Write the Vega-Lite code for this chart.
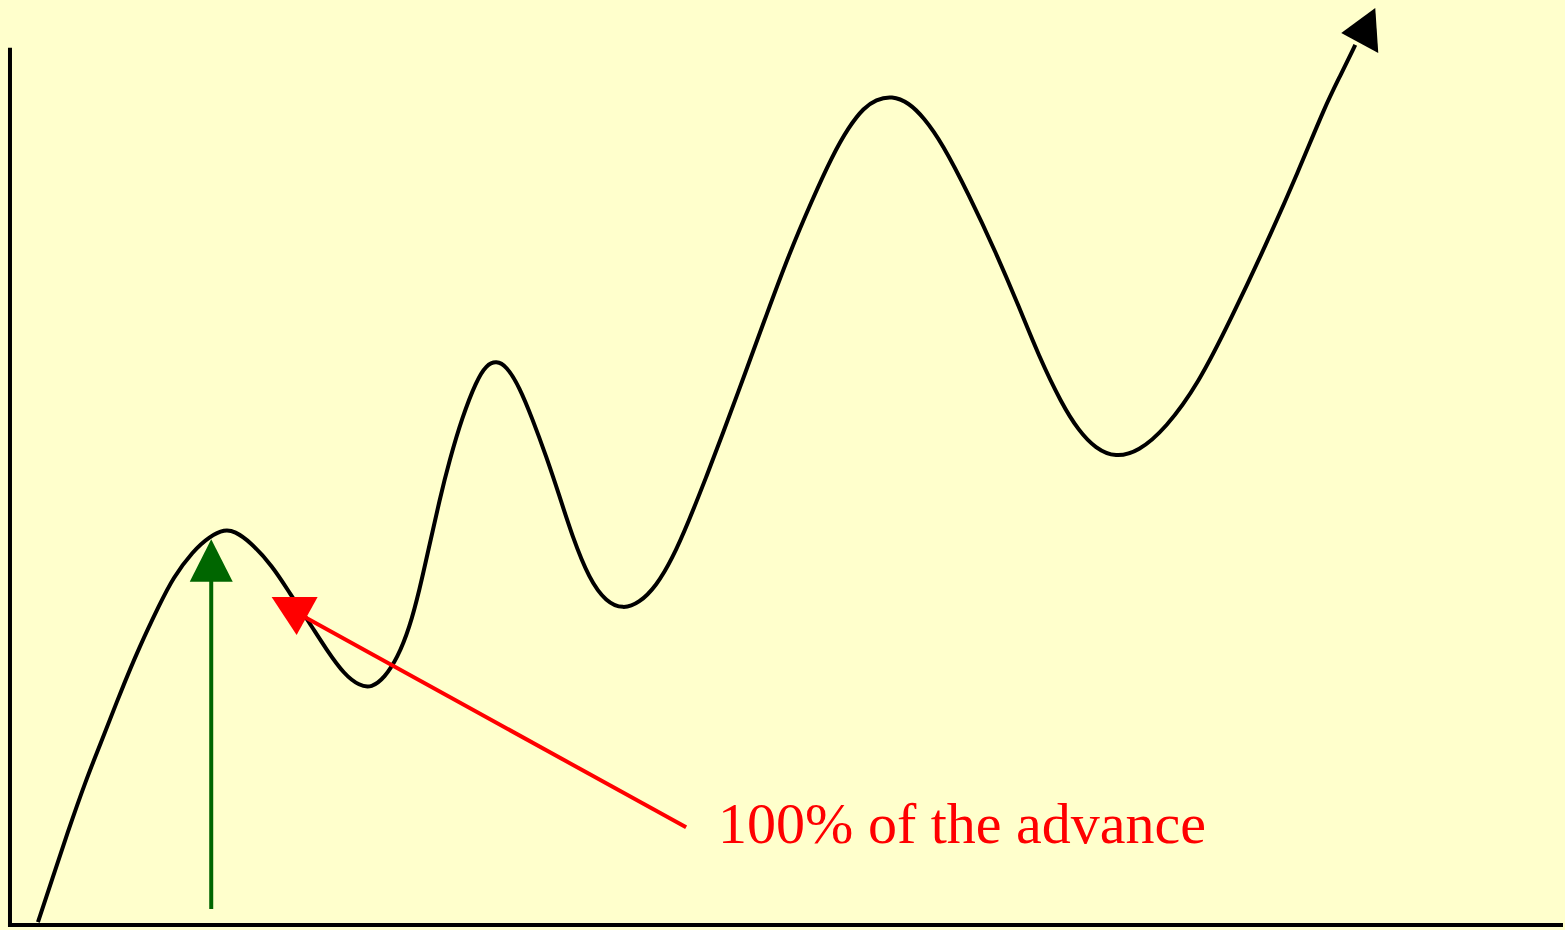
{
  "$schema": "https://vega.github.io/schema/vega-lite/v6.json",
  "width": 1565,
  "height": 930,
  "autosize": {"type": "fit", "contains": "padding"},
  "padding": 0,
  "background": "#FFFFCC",
  "config": {"view": {"stroke": null}},
  "datasets": {
    "curve": [
      {"x": 38, "y": 925}, {"x": 53, "y": 880}, {"x": 67, "y": 837}, {"x": 87, "y": 780},
      {"x": 100, "y": 748}, {"x": 120, "y": 696}, {"x": 140, "y": 648}, {"x": 160, "y": 606},
      {"x": 173, "y": 580}, {"x": 193, "y": 553}, {"x": 210, "y": 538}, {"x": 225, "y": 531},
      {"x": 235, "y": 533}, {"x": 250, "y": 543}, {"x": 273, "y": 568}, {"x": 290, "y": 595},
      {"x": 310, "y": 625}, {"x": 327, "y": 652}, {"x": 345, "y": 677}, {"x": 360, "y": 688},
      {"x": 372, "y": 690}, {"x": 385, "y": 680}, {"x": 398, "y": 660}, {"x": 410, "y": 630},
      {"x": 420, "y": 592}, {"x": 430, "y": 547}, {"x": 440, "y": 502}, {"x": 450, "y": 462},
      {"x": 463, "y": 418}, {"x": 477, "y": 382}, {"x": 487, "y": 366}, {"x": 497, "y": 362},
      {"x": 507, "y": 367}, {"x": 520, "y": 388}, {"x": 533, "y": 420}, {"x": 547, "y": 458},
      {"x": 560, "y": 497}, {"x": 573, "y": 538}, {"x": 590, "y": 581}, {"x": 607, "y": 604},
      {"x": 624, "y": 611}, {"x": 640, "y": 605}, {"x": 657, "y": 588}, {"x": 673, "y": 561},
      {"x": 690, "y": 522}, {"x": 707, "y": 479}, {"x": 723, "y": 437}, {"x": 747, "y": 372},
      {"x": 767, "y": 317}, {"x": 790, "y": 255}, {"x": 813, "y": 201}, {"x": 833, "y": 157},
      {"x": 850, "y": 127}, {"x": 865, "y": 108}, {"x": 877, "y": 100}, {"x": 893, "y": 96},
      {"x": 910, "y": 103}, {"x": 925, "y": 118}, {"x": 943, "y": 143}, {"x": 970, "y": 195},
      {"x": 997, "y": 253}, {"x": 1020, "y": 307}, {"x": 1040, "y": 357}, {"x": 1063, "y": 405},
      {"x": 1080, "y": 432}, {"x": 1097, "y": 450}, {"x": 1117, "y": 459}, {"x": 1140, "y": 453},
      {"x": 1167, "y": 430}, {"x": 1200, "y": 385}, {"x": 1233, "y": 319}, {"x": 1267, "y": 247},
      {"x": 1300, "y": 172}, {"x": 1327, "y": 106}, {"x": 1342, "y": 76}, {"x": 1357, "y": 45}
    ],
    "axes": [
      {"x": 10, "y": 48, "x2": 10, "y2": 930},
      {"x": 8, "y": 928, "x2": 1565, "y2": 928}
    ],
    "green": [{"x": 211.5, "y": 912, "x2": 211.5, "y2": 580}],
    "red": [{"x": 687, "y": 830, "x2": 305, "y2": 619}],
    "greenHead": [{"x": 211.5, "y": 562.5}],
    "redHead": [{"x": 296, "y": 612}],
    "blackHead": [{"x": 1367, "y": 31}],
    "label": [{"x": 719, "y": 846, "text": "100% of the advance"}]
  },
  "layer": [
    {
      "data": {"name": "axes"},
      "mark": {"type": "rule", "color": "#000000", "strokeWidth": 4},
      "encoding": {
        "x": {"field": "x", "type": "quantitative", "scale": {"domain": [0, 1565], "nice": false, "zero": false}, "axis": null},
        "y": {"field": "y", "type": "quantitative", "scale": {"domain": [0, 930], "nice": false, "zero": false, "reverse": true}, "axis": null},
        "x2": {"field": "x2"},
        "y2": {"field": "y2"}
      }
    },
    {
      "data": {"name": "curve"},
      "mark": {"type": "line", "color": "#000000", "strokeWidth": 4, "interpolate": "basis"},
      "encoding": {
        "x": {"field": "x", "type": "quantitative", "scale": {"domain": [0, 1565], "nice": false, "zero": false}, "axis": null},
        "y": {"field": "y", "type": "quantitative", "scale": {"domain": [0, 930], "nice": false, "zero": false, "reverse": true}, "axis": null}
      }
    },
    {
      "data": {"name": "green"},
      "mark": {"type": "rule", "color": "#006600", "strokeWidth": 4},
      "encoding": {
        "x": {"field": "x", "type": "quantitative", "scale": {"domain": [0, 1565], "nice": false, "zero": false}, "axis": null},
        "y": {"field": "y", "type": "quantitative", "scale": {"domain": [0, 930], "nice": false, "zero": false, "reverse": true}, "axis": null},
        "x2": {"field": "x2"},
        "y2": {"field": "y2"}
      }
    },
    {
      "data": {"name": "red"},
      "mark": {"type": "rule", "color": "#FF0000", "strokeWidth": 4},
      "encoding": {
        "x": {"field": "x", "type": "quantitative", "scale": {"domain": [0, 1565], "nice": false, "zero": false}, "axis": null},
        "y": {"field": "y", "type": "quantitative", "scale": {"domain": [0, 930], "nice": false, "zero": false, "reverse": true}, "axis": null},
        "x2": {"field": "x2"},
        "y2": {"field": "y2"}
      }
    },
    {
      "data": {"name": "greenHead"},
      "mark": {"type": "point", "filled": true, "opacity": 1, "color": "#006600", "strokeWidth": 0, "shape": "M0,-1L-1,0.98L1,0.98Z", "size": 1849},
      "encoding": {
        "x": {"field": "x", "type": "quantitative", "scale": {"domain": [0, 1565], "nice": false, "zero": false}, "axis": null},
        "y": {"field": "y", "type": "quantitative", "scale": {"domain": [0, 930], "nice": false, "zero": false, "reverse": true}, "axis": null}
      }
    },
    {
      "data": {"name": "redHead"},
      "mark": {"type": "point", "filled": true, "opacity": 1, "color": "#FF0000", "strokeWidth": 0, "shape": "M-0.96,-0.52L0.88,-0.52L0.04,1Z", "size": 2500},
      "encoding": {
        "x": {"field": "x", "type": "quantitative", "scale": {"domain": [0, 1565], "nice": false, "zero": false}, "axis": null},
        "y": {"field": "y", "type": "quantitative", "scale": {"domain": [0, 930], "nice": false, "zero": false, "reverse": true}, "axis": null}
      }
    },
    {
      "data": {"name": "blackHead"},
      "mark": {"type": "point", "filled": true, "opacity": 1, "color": "#000000", "strokeWidth": 0, "shape": "M0.417,-0.958L-1,0.083L0.542,0.917Z", "size": 2304},
      "encoding": {
        "x": {"field": "x", "type": "quantitative", "scale": {"domain": [0, 1565], "nice": false, "zero": false}, "axis": null},
        "y": {"field": "y", "type": "quantitative", "scale": {"domain": [0, 930], "nice": false, "zero": false, "reverse": true}, "axis": null}
      }
    },
    {
      "data": {"name": "label"},
      "mark": {"type": "text", "color": "#FF0000", "font": "Liberation Serif", "fontSize": 58, "align": "left", "baseline": "alphabetic"},
      "encoding": {
        "x": {"field": "x", "type": "quantitative", "scale": {"domain": [0, 1565], "nice": false, "zero": false}, "axis": null},
        "y": {"field": "y", "type": "quantitative", "scale": {"domain": [0, 930], "nice": false, "zero": false, "reverse": true}, "axis": null},
        "text": {"field": "text"}
      }
    }
  ]
}
